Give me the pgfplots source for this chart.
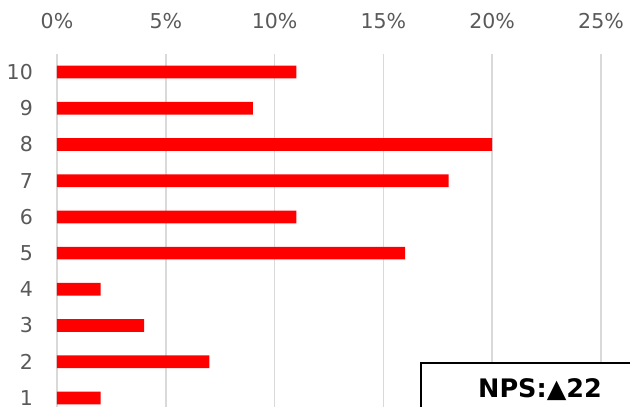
\documentclass[border=0pt]{standalone}
\usepackage{pgfplots}
\pgfplotsset{compat=1.18}
\usepackage{fontspec}
\setmainfont{DejaVu Sans}
\definecolor{lab}{HTML}{595959}
\definecolor{gridc}{HTML}{D9D9D9}
\begin{document}
\begin{tikzpicture}
\begin{axis}[
  scale only axis, width=544pt, height=353pt,
  xbar, bar width=12.7pt,
  xmin=0, xmax=25, ymin=0.75, ymax=10.5,
  xtick={0,5,10,15,20,25},
  xticklabels={0\%,5\%,10\%,15\%,20\%,25\%},
  ytick={1,2,3,4,5,6,7,8,9,10},
  xticklabel pos=upper,
  major tick length=0pt,
  axis line style={draw=none},
  xmajorgrids, ymajorgrids=false,
  major grid style={gridc, line width=1.5pt},
  clip=false,
  /pgf/number format/assume math mode=true,
  xticklabel style={font=\fontsize{20.5}{22}\selectfont, text=lab, anchor=south, inner sep=0pt, yshift=25pt},
  yticklabel style={font=\fontsize{20.5}{22}\selectfont, text=lab, anchor=east, inner sep=0pt, xshift=-24pt},
]
\addplot[fill=red, draw=none] coordinates {
 (2,1) (7,2) (4,3) (2,4) (16,5) (11,6) (18,7) (20,8) (9,9) (11,10)
};
\coordinate (tl) at (rel axis cs:0,1);
\end{axis}
\draw[black, line width=1.8pt, fill=white] ([shift={(364pt,-309pt)}]tl) rectangle ([shift={(640pt,-400pt)}]tl);
\node[font=\bfseries\fontsize{25.5}{28}\selectfont, anchor=base] at ([shift={(483pt,-344pt)}]tl) {NPS:▲22};
\pgfresetboundingbox
\path[use as bounding box] ([shift={(-57pt,54pt)}]tl) rectangle ([shift={(573pt,-353pt)}]tl);
\end{tikzpicture}
\end{document}
